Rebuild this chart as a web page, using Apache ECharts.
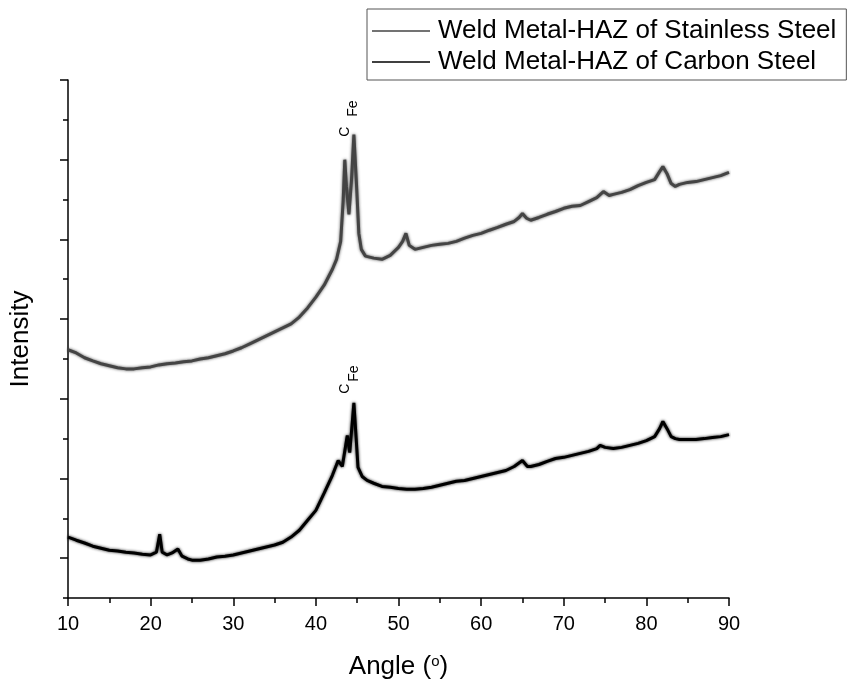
<!DOCTYPE html>
<html>
<head>
<meta charset="utf-8">
<script src="https://cdn.jsdelivr.net/npm/echarts@6/dist/echarts.min.js"></script>
<style>
  html, body { margin: 0; padding: 0; background: #fff; }
  #chart { width: 851px; height: 688px; }
</style>
</head>
<body>
<div id="chart"></div>
<script>
// values (intensity in arbitrary units, 0..1300)
const stainlessAngle = [10,11,12,13,14,15,16,17,18,19,20,21,22,23,24,25,26,27,28,29,30,31,32,33,34,35,36,37,38,39,40,41,42,42.5,43,43.3,43.5,43.7,44,44.3,44.6,44.9,45.2,45.5,46,47,48,49,50,50.5,50.9,51.3,52,53,54,55,56,57,58,59,60,61,62,63,64,64.6,65,65.5,66,67,68,69,70,71,72,73,74,74.8,75.5,76,77,78,79,80,81,81.6,82,82.5,83,83.5,84,85,86,87,88,89,90];
const stainlessIntensity = [623,615,603,595,588,583,578,575,575,578,580,585,588,590,593,595,600,603,608,613,620,628,638,648,658,668,678,688,705,728,755,785,825,850,895,995,1100,1033,963,1045,1163,1045,915,875,858,853,850,860,880,895,915,885,875,880,885,888,890,895,903,910,915,923,930,938,945,955,965,953,948,955,963,970,978,983,985,995,1005,1020,1010,1013,1018,1025,1035,1043,1050,1070,1083,1065,1040,1033,1038,1043,1045,1050,1055,1060,1068];

const carbonAngle = [10,11,12,13,14,15,16,17,18,19,20,20.7,21.1,21.4,22,22.6,23.3,23.8,24.5,25,26,27,28,29,30,31,32,33,34,35,36,37,38,39,40,41,42,42.7,43.2,43.8,44.1,44.6,45.1,45.6,46.2,47,48,49,50,51,52,53,54,55,56,57,58,59,60,61,62,63,64,65,65.6,66,67,68,69,70,71,72,73,74,74.4,75,76,77,78,79,80,81,81.6,82,82.5,83,83.5,84,85,86,87,88,89,90];
const carbonIntensity = [153,145,138,130,125,120,118,115,113,110,108,115,160,115,108,113,123,105,98,95,95,98,103,105,108,113,118,123,128,133,140,153,170,195,220,263,308,345,330,408,365,490,328,305,295,288,280,278,275,273,273,275,278,283,288,293,295,300,305,310,315,320,330,345,330,330,335,343,350,353,358,363,368,375,383,378,375,378,383,388,395,405,425,443,425,405,400,398,398,398,400,403,405,410];

const seriesNames = ['Weld Metal-HAZ of Stainless Steel', 'Weld Metal-HAZ of Carbon Steel'];
const xTicks = [10, 20, 30, 40, 50, 60, 70, 80, 90];
const yMajorTicks = [100, 300, 500, 700, 900, 1100, 1300];
const yMinorTicks = [0, 200, 400, 600, 800, 1000, 1200];

// peak labels: [angle, intensity, text]
const stainlessPeaks = [[43.5, 1170, 'C'], [44.5, 1228, 'Fe']];
const carbonPeaks = [[43.5, 525, 'C'], [44.6, 563, 'Fe']];

const font = 'Liberation Sans, Arial, sans-serif';

function pairs(xs, ys) {
  return xs.map((x, i) => [x, ys[i]]);
}

function peakMarks(list) {
  return {
    symbol: 'circle',
    symbolSize: 0,
    silent: true,
    label: {
      show: true,
      position: 'inside',
      rotate: 90,
      color: '#000',
      fontFamily: font,
      fontSize: 14,
      formatter: '{b}'
    },
    data: list.map(p => ({ name: p[2], coord: [p[0], p[1]] }))
  };
}

const chart = echarts.init(document.getElementById('chart'));

const option = {
  animation: false,
  backgroundColor: '#fff',
  grid: { left: 68, right: 122, top: 80, bottom: 90 },
  legend: {
    orient: 'vertical',
    left: 367,
    top: 9,
    padding: [9, 10, 5, 5],
    itemGap: 5,
    itemWidth: 58,
    itemHeight: 1.5,
    icon: 'rect',
    borderColor: '#555',
    borderWidth: 1,
    textStyle: { fontFamily: font, fontSize: 26, color: '#000', padding: [0, 0, 0, 3] },
    data: seriesNames
  },
  xAxis: {
    type: 'value',
    min: 10,
    max: 90,
    interval: 10,
    name: 'Angle ({s|o})',
    nameLocation: 'middle',
    nameGap: 56,
    nameTextStyle: {
      fontFamily: font, fontSize: 26, color: '#000',
      rich: { s: { fontFamily: font, fontSize: 15, color: '#000', verticalAlign: 'top', padding: [0, 0, 11, 0] } }
    },
    axisLine: { lineStyle: { color: '#000', width: 1.5 } },
    axisTick: { length: 8, lineStyle: { color: '#000', width: 1.5 }, customValues: xTicks },
    minorTick: { show: true, splitNumber: 2, length: 5, lineStyle: { color: '#000', width: 1.5 } },
    axisLabel: { fontFamily: font, fontSize: 20, color: '#000', margin: 16, customValues: xTicks },
    splitLine: { show: false }
  },
  yAxis: [
    {
      type: 'value',
      min: 0,
      max: 1300,
      name: 'Intensity',
      nameLocation: 'middle',
      nameGap: 34,
      nameTextStyle: { fontFamily: font, fontSize: 26, color: '#000' },
      axisLine: { show: true, lineStyle: { color: '#000', width: 1.5 } },
      axisTick: { show: true, length: 8, lineStyle: { color: '#000', width: 1.5 }, customValues: yMajorTicks },
      axisLabel: { show: false },
      splitLine: { show: false }
    },
    {
      type: 'value',
      min: 0,
      max: 1300,
      position: 'left',
      axisLine: { show: false },
      axisTick: { show: true, length: 5, lineStyle: { color: '#000', width: 1.5 }, customValues: yMinorTicks },
      axisLabel: { show: false },
      splitLine: { show: false }
    }
  ],
  series: [
    {
      name: seriesNames[0],
      type: 'line',
      symbol: 'none',
      color: '#444',
      lineStyle: { color: '#444', width: 3, shadowColor: 'rgba(60,60,60,0.9)', shadowBlur: 3 },
      data: pairs(stainlessAngle, stainlessIntensity),
      markPoint: peakMarks(stainlessPeaks)
    },
    {
      name: seriesNames[1],
      type: 'line',
      symbol: 'none',
      color: '#000',
      lineStyle: { color: '#000', width: 3, shadowColor: 'rgba(0,0,0,0.9)', shadowBlur: 3 },
      data: pairs(carbonAngle, carbonIntensity),
      markPoint: peakMarks(carbonPeaks)
    }
  ]
};

chart.setOption(option);
</script>
</body>
</html>
